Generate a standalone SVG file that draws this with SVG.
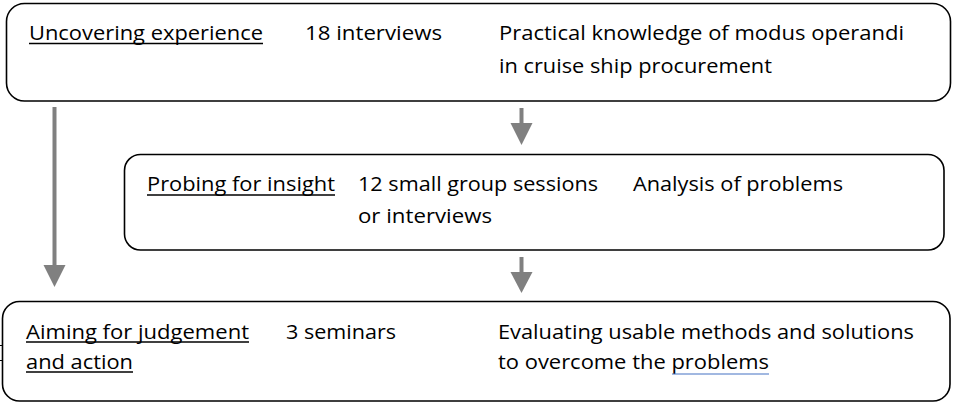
<svg xmlns="http://www.w3.org/2000/svg" width="953" height="403" viewBox="0 0 953 403">
  <style>
    .box { fill: #ffffff; stroke: #000000; stroke-width: 1.6; }
    .t { font-family: "Open Sans", "Liberation Sans", sans-serif; font-size: 20.5px; fill: #000000; }
    .ul { stroke: #000000; stroke-width: 1.3; }
    .spell { stroke: #4472c4; stroke-width: 1.2; }
    .shaft { stroke: #808080; stroke-width: 4; fill: none; }
    .head { fill: #808080; }
  </style>
  <rect width="953" height="403" fill="#ffffff"/>

  <!-- Stage 1 -->
  <g id="uncovering">
    <rect class="box" x="6.5" y="3.5" width="944" height="97.5" rx="18" ry="18"/>
    <text class="t" x="29" y="40" textLength="234" lengthAdjust="spacingAndGlyphs">Uncovering experience</text>
    <line class="ul" x1="29" y1="43.5" x2="263" y2="43.5"/>
    <text class="t" x="305" y="40" textLength="137" lengthAdjust="spacingAndGlyphs">18 interviews</text>
    <text class="t" x="499" y="40" textLength="405" lengthAdjust="spacingAndGlyphs">Practical knowledge of modus operandi</text>
    <text class="t" x="499" y="72.5" textLength="273" lengthAdjust="spacingAndGlyphs">in cruise ship procurement</text>
  </g>

  <!-- Stage 2 -->
  <g id="probing">
    <rect class="box" x="124.5" y="154.5" width="819.5" height="95.5" rx="16" ry="16"/>
    <text class="t" x="147" y="191" textLength="188" lengthAdjust="spacingAndGlyphs">Probing for insight</text>
    <line class="ul" x1="147" y1="195" x2="335" y2="195"/>
    <text class="t" x="358" y="191" textLength="240" lengthAdjust="spacingAndGlyphs">12 small group sessions</text>
    <text class="t" x="358" y="222.5" textLength="134" lengthAdjust="spacingAndGlyphs">or interviews</text>
    <text class="t" x="633" y="191" textLength="210" lengthAdjust="spacingAndGlyphs">Analysis of problems</text>
  </g>

  <!-- Stage 3 -->
  <g id="aiming">
    <rect class="box" x="2.5" y="301.5" width="947.5" height="99.5" rx="17" ry="17"/>
    <path d="M0 345.5 H3 M0 360.5 H3" stroke="#000000" stroke-width="1"/>
    <text class="t" x="26" y="338.5" textLength="223" lengthAdjust="spacingAndGlyphs">Aiming for judgement</text>
    <line class="ul" x1="26" y1="342" x2="249" y2="342"/>
    <text class="t" x="26" y="368.5" textLength="107" lengthAdjust="spacingAndGlyphs">and action</text>
    <line class="ul" x1="26" y1="372" x2="133" y2="372"/>
    <text class="t" x="286" y="338.5" textLength="110" lengthAdjust="spacingAndGlyphs">3 seminars</text>
    <text class="t" x="498" y="338.5" textLength="416" lengthAdjust="spacingAndGlyphs">Evaluating usable methods and solutions</text>
    <text class="t" x="498" y="368.5" textLength="271" lengthAdjust="spacingAndGlyphs">to overcome the problems</text>
    <line class="spell" x1="672" y1="374" x2="769" y2="374"/>
  </g>

  <!-- Flow arrows -->
  <g id="connectors">
    <line class="shaft" x1="54.5" y1="107" x2="54.5" y2="266"/>
    <polygon class="head" points="43.5,265 65.5,265 54.5,287"/>
    <line class="shaft" x1="521.5" y1="108" x2="521.5" y2="124"/>
    <polygon class="head" points="510.5,123 532.5,123 521.5,145"/>
    <line class="shaft" x1="521.5" y1="257" x2="521.5" y2="273"/>
    <polygon class="head" points="510.5,272 532.5,272 521.5,293"/>
  </g>
</svg>
